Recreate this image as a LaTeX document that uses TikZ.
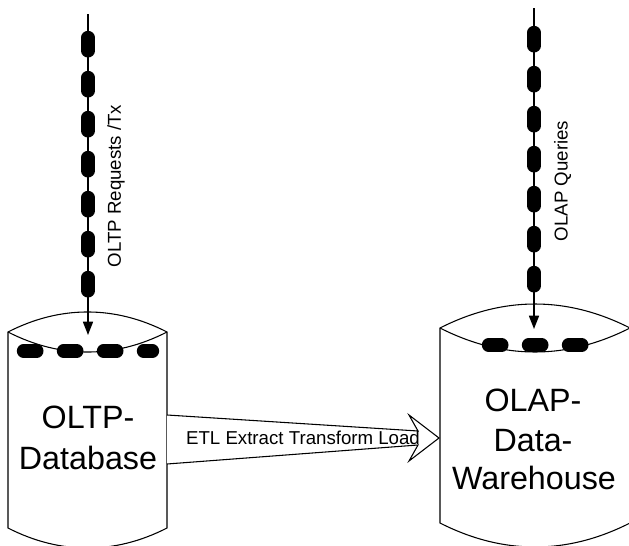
\documentclass[tikz,border=0pt]{standalone}
\usepackage{fontspec}
\setmainfont{Liberation Sans}
\usepackage{xcolor}
\usepackage{tikz}
\usetikzlibrary{arrows.meta}
\tikzset{
  blobline/.style={line width=10pt,line cap=round,dash pattern=on 10pt off 20pt},
  thinline/.style={line width=1.2pt},
  outline/.style={line width=0.8pt},
  dbtext/.style={font=\fontsize{24.2}{24}\selectfont,inner sep=0pt},
  sidetext/.style={font=\fontsize{14}{14}\selectfont,inner sep=0pt,rotate=90},
  etltext/.style={font=\fontsize{14}{14}\selectfont,inner sep=0pt}
}
\begin{document}
\begin{tikzpicture}[x=0.75pt,y=-0.75pt]
    \useasboundingbox (0,0) rectangle (629,546);
    \clip (0,0) rectangle (629,546);
    % database bodies
    \draw[outline] (8,332) .. controls (60,305.3) and (115,305.3) .. (167,332) -- (167,528)
      .. controls (115,554.7) and (60,554.7) .. (8,528) -- cycle;
    \draw[outline] (8,332) .. controls (60,358.7) and (115,358.7) .. (167,332);
    \draw[outline] (440,328) .. controls (503,296) and (567,296) .. (630,328) -- (630,523)
      .. controls (567,555) and (503,555) .. (440,523) -- cycle;
    \draw[outline] (440,328) .. controls (503,360) and (567,360) .. (630,328);
    % request lines
    \coordinate (oltpstart) at (88,14);
    \coordinate (oltpend) at (88,335);
    \coordinate (olapstart) at (534,8);
    \coordinate (olapend) at (534,329);
    \draw[thinline,-{Triangle[length=10pt,width=7.5pt]}] (oltpstart) -- (oltpend);
    \draw[thinline,-{Triangle[length=10pt,width=7.5pt]}] (olapstart) -- (olapend);
    \draw[blobline] (88,37.5) -- (88,292);
    \draw[blobline] (534,32.5) -- (534,287);
    % dashes on the top of each database
    \draw[blobline] (23.5,351) -- (152.5,351);
    \draw[blobline] (488.5,345) -- (583,345);
    % ETL arrow
    \draw[outline,fill=white] (167,415) -- (418,431) -- (409,415) -- (439,438)
      -- (409,461) -- (418,445) -- (167,464);
    \node[etltext] (etl) at (303,438) {ETL Extract Transform Load};
    \node[dbtext] (oltpa) at (88,417) {OLTP-};
    \node[dbtext] (oltpb) at (88,458) {Database};
    \node[dbtext] (olapa) at (533,400) {OLAP-};
    \node[dbtext] (olapb) at (533,441) {Data-};
    \node[dbtext] (olapc) at (534,478) {Warehouse};
    \node[sidetext] (oltplabel) at (116,186) {OLTP Requests /Tx};
    \node[sidetext] (olaplabel) at (562.5,181) {OLAP Queries};
\end{tikzpicture}
\end{document}
